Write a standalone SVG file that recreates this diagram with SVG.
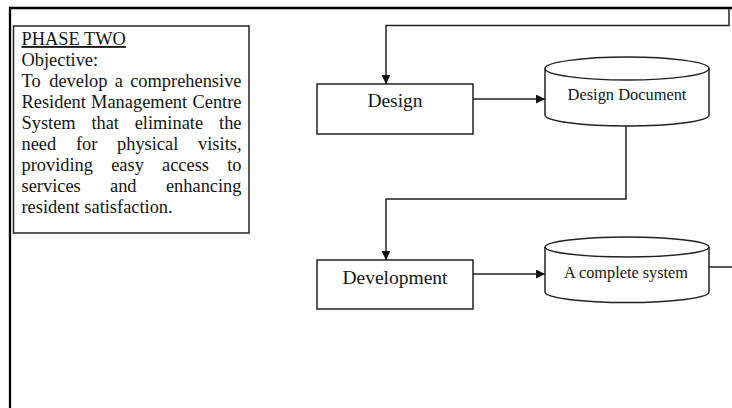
<svg xmlns="http://www.w3.org/2000/svg" width="732" height="408" viewBox="0 0 732 408">
<style>
.t{font-family:"Liberation Serif","Times New Roman",serif;fill:#151515}
.bt{font-size:18.4px}
.nd{fill:#fff;stroke:#222;stroke-width:1.5}
.ln{fill:none;stroke:#222;stroke-width:1.5}
.fr{fill:none;stroke:#000;stroke-width:2.3}
</style>
<defs>
<marker id="ah" viewBox="0 0 10 10" refX="10" refY="5" markerWidth="10" markerHeight="9" markerUnits="userSpaceOnUse" orient="auto">
<path d="M0,0 L10,5 L0,10 Z" fill="#111"/>
</marker>
</defs>
<rect width="732" height="408" fill="#fff"/>
<g id="frame">
<path class="fr" d="M10,408 V8 H732"/>
</g>
<g id="phase-two">
<rect x="13.5" y="26" width="235.5" height="207" fill="#fff" stroke="#333" stroke-width="1.6"/>
<text class="t bt" x="21.5" y="45" text-decoration="underline">PHASE TWO</text>
<text class="t bt" x="21.5" y="66">Objective:</text>
<text class="t bt" y="87"><tspan x="21.5">To</tspan><tspan x="49.2">develop</tspan><tspan x="114.7">a</tspan><tspan x="241.5" text-anchor="end">comprehensive</tspan></text>
<text class="t bt" y="108"><tspan x="21.5">Resident</tspan><tspan x="91.1">Management</tspan><tspan x="241.5" text-anchor="end">Centre</tspan></text>
<text class="t bt" y="129"><tspan x="21.5">System</tspan><tspan x="91.4">that</tspan><tspan x="134.7">eliminate</tspan><tspan x="241.5" text-anchor="end">the</tspan></text>
<text class="t bt" y="150"><tspan x="21.5">need</tspan><tspan x="75.9">for</tspan><tspan x="117">physical</tspan><tspan x="241.5" text-anchor="end">visits,</tspan></text>
<text class="t bt" y="171"><tspan x="21.5">providing</tspan><tspan x="111.2">easy</tspan><tspan x="162">access</tspan><tspan x="241.5" text-anchor="end">to</tspan></text>
<text class="t bt" y="192"><tspan x="21.5">services</tspan><tspan x="110">and</tspan><tspan x="241.5" text-anchor="end">enhancing</tspan></text>
<text class="t bt" x="21.5" y="213">resident satisfaction.</text>
</g>
<g id="connectors">
<path class="ln" d="M729,9 V25.5 H386 V84" marker-end="url(#ah)"/>
<path class="ln" d="M473,99 H545" marker-end="url(#ah)"/>
<path class="ln" d="M626,126 V199 H386 V260" marker-end="url(#ah)"/>
<path class="ln" d="M473,274 H545" marker-end="url(#ah)"/>
<path class="ln" d="M709,267 H732"/>
</g>
<g id="design">
<rect class="nd" x="317" y="84" width="156" height="50"/>
<text class="t" x="395" y="106.5" font-size="19.5" text-anchor="middle">Design</text>
</g>
<g id="design-document">
<path class="nd" d="M545,68.5 V115 A82,11 0 0 0 709,115 V68.5 A82,11.5 0 0 0 545,68.5 Z"/>
<path class="ln" d="M545,68.5 A82,11.5 0 0 0 709,68.5"/>
<text class="t" x="627" y="100" font-size="16.4" text-anchor="middle">Design Document</text>
</g>
<g id="development">
<rect class="nd" x="317" y="260" width="156" height="49"/>
<text class="t" x="395" y="284" font-size="19.5" text-anchor="middle">Development</text>
</g>
<g id="complete-system">
<path class="nd" d="M545,247 V292 A82,10.5 0 0 0 709,292 V247 A82,10 0 0 0 545,247 Z"/>
<path class="ln" d="M545,247 A82,10 0 0 0 709,247"/>
<text class="t" x="626" y="278" font-size="16.3" text-anchor="middle">A complete system</text>
</g>
</svg>
